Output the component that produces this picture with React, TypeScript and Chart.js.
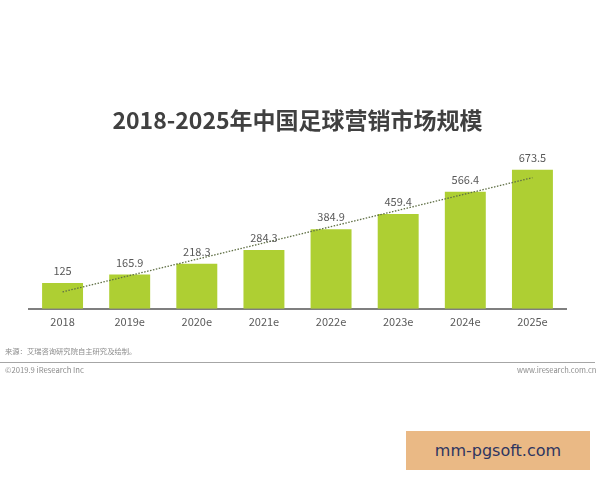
import React, { useEffect, useRef } from "react";
import { Chart, registerables } from "chart.js";

Chart.register(...registerables);

const categories = ["2018", "2019e", "2020e", "2021e", "2022e", "2023e", "2024e", "2025e"];
const marketSize = [125, 165.9, 218.3, 284.3, 384.9, 459.4, 566.4, 673.5];
const trendValues = [82, null, null, null, null, null, null, 635];
const titleText = "2018-2025年中国足球营销市场规模";
const sourceText = "来源：艾瑞咨询研究院自主研究及绘制。";
const copyrightText = "©2019.9 iResearch Inc";
const websiteText = "www.iresearch.com.cn";
const badgeText = "mm-pgsoft.com";

const FONT = '"Noto Sans CJK SC", "Noto Sans", sans-serif';

const barLabels = {
  id: "barLabels",
  afterDatasetsDraw(chart: any) {
    const { ctx } = chart;
    const meta = chart.getDatasetMeta(0);
    ctx.save();
    ctx.font = `11px ${FONT}`;
    ctx.fillStyle = "#595959";
    ctx.textAlign = "center";
    ctx.textBaseline = "alphabetic";
    meta.data.forEach((bar: any, i: number) => {
      ctx.fillText(String(marketSize[i]), bar.x, bar.y - 8);
    });
    ctx.restore();
  },
};

const textStyle: React.CSSProperties = {
  position: "absolute",
  whiteSpace: "nowrap",
  fontFamily: FONT,
  lineHeight: 1,
};

export default function App() {
  const ref = useRef<HTMLCanvasElement>(null);
  useEffect(() => {
    const chart = new Chart(ref.current!, {
      type: "bar",
      data: {
        labels: categories,
        datasets: [
          {
            type: "bar",
            data: marketSize,
            backgroundColor: "#AECF33",
            barPercentage: 0.61,
            categoryPercentage: 1,
            order: 2,
          },
          {
            type: "line",
            data: trendValues,
            spanGaps: true,
            borderColor: "#5F6F45",
            borderWidth: 1.3,
            borderDash: [1.5, 1.5],
            pointRadius: 0,
            order: 1,
          },
        ],
      } as any,
      options: {
        responsive: false,
        animation: false,
        layout: { padding: { left: 29, right: 34, top: 0, bottom: 146 } },
        plugins: {
          legend: { display: false },
          tooltip: { enabled: false },
          title: {
            display: true,
            text: titleText,
            color: "#404040",
            font: { family: FONT, size: 23, weight: "bold" },
            padding: { top: 106, bottom: 10 },
          },
        },
        scales: {
          x: {
            grid: { display: false, drawTicks: false },
            border: { color: "#7F7F7F", width: 2 },
            ticks: { color: "#595959", font: { family: FONT, size: 11 }, padding: 6, maxRotation: 0 },
          },
          y: { display: false, min: 0, max: 800 },
        },
      },
      plugins: [barLabels],
    });
    return () => chart.destroy();
  }, []);

  return (
    <div style={{ position: "absolute", left: 0, top: 0, width: 600, height: 480, background: "#fff", overflow: "hidden" }}>
      <canvas ref={ref} width={600} height={480} style={{ display: "block" }} />
      <div style={{ ...textStyle, left: 5, top: 348, fontSize: 7.3, color: "#8c8c8c" }}>{sourceText}</div>
      <div style={{ position: "absolute", left: 0, top: 362, width: 595, height: 1, background: "#a6a6a6" }} />
      <div style={{ ...textStyle, left: 5, top: 366, fontSize: 7.7, color: "#8c8c8c" }}>{copyrightText}</div>
      <div style={{ ...textStyle, left: 517, top: 366, fontSize: 7.5, color: "#8c8c8c" }}>{websiteText}</div>
      <div
        style={{
          ...textStyle,
          left: 406,
          top: 431,
          width: 184,
          height: 39,
          background: "#EAB985",
          color: "#2E3560",
          fontSize: 16,
          fontFamily: '"DejaVu Sans", sans-serif',
          display: "flex",
          alignItems: "center",
          justifyContent: "center",
        }}
      >
        {badgeText}
      </div>
    </div>
  );
}
